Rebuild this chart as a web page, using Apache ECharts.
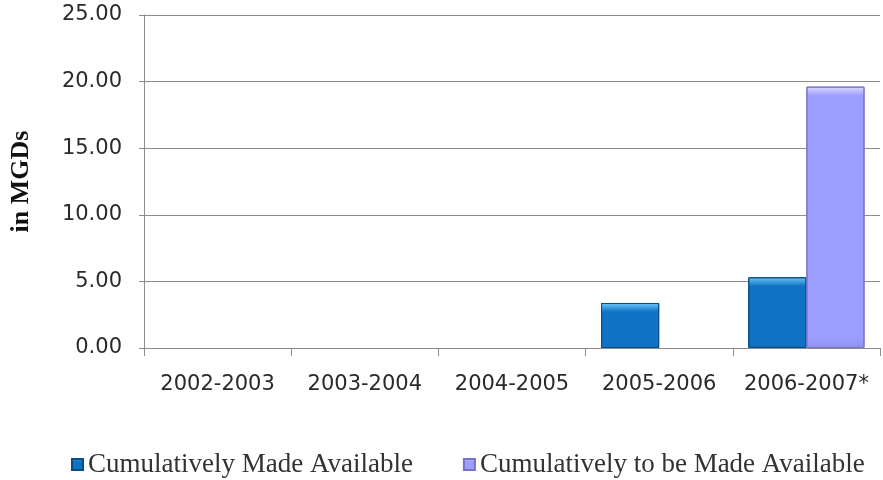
<!DOCTYPE html>
<html>
<head>
<meta charset="utf-8">
<script src="https://cdn.jsdelivr.net/npm/echarts@6/dist/echarts.min.js"></script>
<style>
  html, body { margin: 0; padding: 0; background: #ffffff; }
  #chart { width: 883px; height: 480px; }
</style>
</head>
<body>
<div id="chart"></div>
<script>
// Fiscal periods on the category axis
const periods = ['2002-2003', '2003-2004', '2004-2005', '2005-2006', '2006-2007*'];
// Capacity in million gallons per day
const madeAvailable = [0, 0, 0, 3.38, 5.31];
const toBeMadeAvailable = [0, 0, 0, 0, 19.62];
const seriesNames = ['Cumulatively Made Available', 'Cumulatively to be Made Available'];
const yMin = 0, yMax = 25, yStep = 5;

// Bevelled fill: bright rim along the top edge fading into the body colour
const palettes = [
  { rim: '#6cc8f8', body: '#0f72c4', foot: '#0b60aa', edge: '#0a4d86' },
  { rim: '#dcdcff', body: '#9d9dff', foot: '#9090f0', edge: '#7474c4' }
];
function bevelFill(p, rimFraction) {
  const r = Math.min(0.45, Math.max(0.02, rimFraction));
  return new echarts.graphic.LinearGradient(0, 0, 0, 1, [
    { offset: 0, color: p.rim },
    { offset: r, color: p.body },
    { offset: 0.96, color: p.body },
    { offset: 1, color: p.foot }
  ]);
}

const chart = echarts.init(document.getElementById('chart'), null, { renderer: 'canvas' });

function buildSeries(rimPx) {
  return [madeAvailable, toBeMadeAvailable].map((values, i) => ({
    name: seriesNames[i],
    type: 'bar',
    barGap: '0%',
    barCategoryGap: '21%',
    itemStyle: {
      color: bevelFill(palettes[i], 0.25),
      borderColor: palettes[i].edge,
      borderWidth: 1
    },
    data: values.map((v, k) => ({
      value: v,
      itemStyle: {
        color: bevelFill(palettes[i], rimPx ? rimPx[i][k] : 0.1),
        borderWidth: v > 0 ? 1 : 0
      }
    }))
  }));
}

const option = {
  animation: false,
  backgroundColor: '#ffffff',
  grid: { left: 141, right: 3, top: 15, bottom: 132 },
  legend: {
    left: 66,
    top: 446,
    itemWidth: 11,
    itemHeight: 11,
    itemGap: 50,
    icon: 'rect',
    textStyle: { fontFamily: 'Liberation Serif', fontSize: 27, color: '#333333' }
  },
  xAxis: {
    type: 'category',
    data: periods,
    boundaryGap: true,
    axisLine: { lineStyle: { color: '#8c8c8c', width: 1 } },
    axisTick: { show: true, length: 8, interval: 0, lineStyle: { color: '#8c8c8c' } },
    axisLabel: { interval: 0, margin: 26, fontFamily: 'DejaVu Sans', fontSize: 21, color: '#2a2a2a' }
  },
  yAxis: {
    type: 'value',
    min: yMin,
    max: yMax,
    interval: yStep,
    name: 'in MGDs',
    nameLocation: 'middle',
    nameGap: 110,
    nameTextStyle: { fontFamily: 'Liberation Serif', fontWeight: 'bold', fontSize: 26, color: '#111111' },
    axisLine: { show: true, lineStyle: { color: '#8c8c8c', width: 1 } },
    axisTick: { show: true, length: 5, lineStyle: { color: '#8c8c8c' } },
    axisLabel: {
      margin: 22,
      fontFamily: 'DejaVu Sans',
      fontSize: 21,
      color: '#2a2a2a',
      formatter: v => v.toFixed(2)
    },
    splitLine: { show: true, lineStyle: { color: '#8c8c8c', width: 1 } }
  },
  series: buildSeries(null)
};

chart.setOption(option);

// Keep the top rim roughly 9px tall whatever the bar's height
const zeroPx = chart.convertToPixel({ yAxisIndex: 0 }, 0);
const rimPx = [madeAvailable, toBeMadeAvailable].map(values =>
  values.map(v => {
    if (!v) return 0.1;
    const h = zeroPx - chart.convertToPixel({ yAxisIndex: 0 }, v);
    return 9 / h;
  })
);
chart.setOption({ series: buildSeries(rimPx) });
</script>
</body>
</html>
